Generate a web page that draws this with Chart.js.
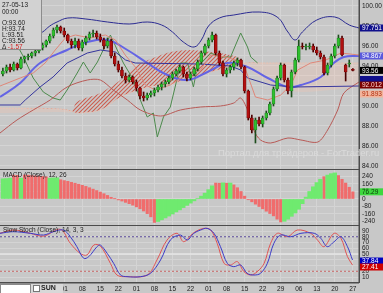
<!DOCTYPE html>
<html>
<head>
<meta charset="utf-8">
<script src="https://cdn.jsdelivr.net/npm/chart.js"></script>
<style>
  body { margin: 0; width: 383px; height: 293px; overflow: hidden; position: relative; background: #c8c8c8;
         font-family: "Liberation Sans", Arial, sans-serif; color: #222; }
  .pane { position: absolute; left: 0; width: 383px; }
  .txt { position: absolute; white-space: nowrap; font-size: 6.5px; }
  #info { position: absolute; left: 0; top: 0; width: 41px; height: 49px; background: #d2d2d2;
          border-right: 1px solid #8c8c8c; border-bottom: 1px solid #8c8c8c; }
  #info div { position: absolute; left: 2px; font-size: 6.5px; line-height: 7px; }
  #mark { position: absolute; left: 218px; top: 147px; font-size: 9.5px; color: #dadada; white-space: nowrap; }
</style>
</head>
<body>
<div class="pane" style="top:0;height:170px"><canvas id="mainChart"></canvas></div>
<div class="pane" style="top:170px;height:56px"><canvas id="macdChart"></canvas></div>
<div class="pane" style="top:226px;height:67px"><canvas id="stochChart"></canvas></div>

<div id="mark">Портал для трейдеров - ForTrader.ru</div>
<div id="info">
  <div style="top:1px">27-05-13</div>
  <div style="top:8px">00:00</div>
  <div style="top:19px">O:93.60</div>
  <div style="top:25px">H:93.74</div>
  <div style="top:31px">L:93.51</div>
  <div style="top:37px">C:93.56</div>
  <div style="top:43px">Δ <span style="color:#d02020">-1.57</span></div>
</div>
<div class="txt" style="left:3px;top:171px">MACD (Close), 12, 26</div>
<div class="txt" style="left:3px;top:226px">Slow Stoch (Close), 14, 3, 3</div>
<div style="position:absolute;left:0;top:284px;width:29px;height:8px;background:#fff;border:1px solid #8a8a8a"></div>
<div style="position:absolute;left:31px;top:284px;width:32px;height:9px;background:#d8d8d8"></div>
<div style="position:absolute;left:33px;top:285px;width:5px;height:5px;background:#fff;border:1px solid #777"></div>
<div class="txt" style="left:41px;top:284px;font-weight:bold;font-size:7px">SUN</div>

<script>
// ---- data ----
const dayIdx = [17, 22, 27, 32, 37, 42, 47, 52, 57, 62, 67, 72, 77, 82, 87, 92, 97];
const dayLabels = ['01', '08', '15', '22', '01', '08', '15', '22', '01', '08', '15', '22', '29', '06', '13', '20', '27'];
const priceTicks = [84, 85, 86, 87, 88, 89, 90, 91, 92, 93, 94, 95, 96, 97, 98, 99, 100];
const macdTicks = [-240, -160, -80, 0, 80, 160, 240];
const stochTicks = [10, 20, 30, 40, 50, 60, 70, 80, 90];

const opens = [93.2,93.5,93.9,93.6,94.2,93.8,94.7,94.9,95.0,95.3, 95.5,95.8,96.1,96.5,97.0,97.6,97.9,97.5,97.1,96.5,
  96.1,96.5,95.8,96.4,96.8,97.2,97.3,96.9,96.6,96.0, 96.5,95.0,94.2,93.6,93.0,92.6,92.9,92.4,91.8,91.0,
  90.8,91.1,91.3,91.6,91.9,92.2,92.4,92.8,93.2,93.5, 93.9,93.2,92.8,93.2,93.7,94.4,95.3,96.0,96.6,97.1,
  95.3,94.3,93.2,93.6,93.9,94.3,94.6,93.9,91.5,88.8, 87.6,88.6,88.2,88.8,89.3,90.2,91.7,92.8,94.1,92.6,
  91.5,93.4,94.6,96.0,95.9,95.9,96.0,95.6,95.3,94.9, 93.3,94.1,95.0,96.0,96.8,94.1,94.2,93.60];
const highs = [93.8,94.1,94.2,94.4,94.3,94.9,95.0,95.2,95.4,95.6, 96.0,96.3,96.6,97.2,97.8,98.1,98.0,97.8,97.2,96.7,
  96.8,96.7,96.6,97.0,97.4,97.6,97.5,97.2,96.8,96.8, 96.7,95.3,94.5,93.9,93.3,93.1,93.0,92.6,91.9,91.4,
  91.3,91.5,91.8,92.1,92.4,92.6,93.0,93.4,93.7,94.1, 94.0,93.4,93.4,93.9,94.6,95.5,96.2,96.8,97.4,97.2,
  95.5,94.5,93.8,94.1,94.5,94.8,94.7,94.0,91.6,89.1, 88.8,88.9,89.0,89.5,90.4,91.9,93.0,94.3,94.2,92.8,
  93.6,94.8,96.6,96.3,96.2,96.3,96.2,95.9,95.5,95.1, 94.3,95.2,96.2,97.1,97.0,94.2,94.6,93.74];
const lows = [93.0,93.3,93.4,93.5,93.6,93.7,94.3,94.6,94.8,95.0, 95.3,95.6,95.9,96.3,96.8,97.3,97.3,96.9,96.3,95.8,
  95.8,95.6,95.5,96.1,96.6,96.9,96.7,96.4,95.7,95.8, 94.8,94.0,93.4,92.8,92.3,92.4,92.2,91.5,90.7,90.5,
  90.6,90.9,91.0,91.4,91.6,91.9,92.2,92.6,93.0,93.3, 92.9,92.5,92.6,93.0,93.5,94.2,95.1,95.8,96.4,95.1,
  94.1,93.0,92.9,93.3,93.6,94.0,93.7,91.3,88.6,87.3, 86.3,88.0,87.9,88.6,89.1,90.0,91.5,92.6,92.4,91.2,
  90.9,93.2,94.4,95.7,95.6,95.7,95.4,95.1,94.7,93.1, 93.1,93.9,94.8,95.8,95.0,92.5,93.9,93.51];
const closes = [93.5,93.9,93.6,94.2,93.8,94.7,94.9,95.0,95.3,95.5, 95.8,96.1,96.5,97.0,97.6,97.9,97.5,97.1,96.5,96.1,
  96.5,95.8,96.4,96.8,97.2,97.3,96.9,96.6,96.0,96.5, 95.0,94.2,93.6,93.0,92.6,92.9,92.4,91.8,91.0,90.8,
  91.1,91.3,91.6,91.9,92.2,92.4,92.8,93.2,93.5,93.9, 93.2,92.8,93.2,93.7,94.4,95.3,96.0,96.6,97.1,95.3,
  94.3,93.2,93.6,93.9,94.3,94.6,93.9,91.5,88.8,87.6, 88.6,88.2,88.8,89.3,90.2,91.7,92.8,94.1,92.6,91.5,
  93.4,94.6,96.0,95.9,95.9,96.0,95.6,95.3,94.9,93.3, 94.1,95.0,96.0,96.8,95.1,93.4,94.2,93.56];

// overlay lines: [bar, price]
const upperBand = [[-0.8,96.6],[5,96.8],[9,97.1],[11,97.4],[13,98.0],[15,98.4],[18,98.8],[23,98.7],[29,98.4],[35,98.2],
  [40,98.4],[44,98.1],[47,97.4],[50,96.4],[53,95.9],[55,96.6],[57,98.0],[60,98.8],[64,99.1],[71,99.4],[76,98.9],
  [79,97.4],[81,96.6],[83,97.4],[87,98.6],[92,98.9],[96,98.1],[98.7,97.8]];
const midBand = [[-0.8,90.9],[4.8,92.3],[10.3,94.3],[17.8,95.6],[23.4,96.4],[29,96.6],[34.5,95.6],[40,94.3],[45.6,93.1],
  [51.2,92.6],[56.7,93.4],[62.3,94.3],[67.8,93.9],[73.4,92.8],[79,91.9],[82.6,92.1],[88.1,92.9],[91.7,94.3],[94.5,94.9],[98.7,95.0]];
const lowerBand = [[-0.8,87.3],[3.9,88.6],[8.4,89.6],[13.1,90.6],[17.8,91.9],[23.4,92.6],[27,92.6],[30.6,91.6],[34.5,90.6],
  [38.1,89.6],[43.7,89.0],[49.2,89.6],[54.8,89.9],[60.3,90.0],[64,90.3],[65.9,90.8],[67.8,89.6],[69.5,87.6],[71.4,86.6],
  [74.2,86.3],[79,86.8],[82.6,86.6],[87.3,86.4],[90,87.6],[92.8,89.6],[94.5,91.3],[98.7,92.4]];
const tenkan = [[-0.8,92.0],[4.8,92.8],[8.4,93.3],[11.7,94.3],[14.5,95.6],[17.3,96.8],[20.1,97.1],[24.2,96.8],[28.4,97.1],
  [31.2,96.6],[33.9,95.1],[36.7,93.9],[39.5,92.1],[42.3,91.6],[46.4,92.1],[50.6,93.1],[54.8,93.6],[57.6,95.1],[61.7,94.9],
  [64.5,94.6],[67.3,93.6],[70,90.9],[73.4,90.6],[77,91.1],[79.8,92.1],[81.7,93.6],[85.3,94.3],[89.5,94.6],[93.7,95.3],[98.7,95.1]];
const kijun = [[-0.8,90.1],[4.8,90.1],[6.2,90.6],[10.3,91.9],[13.9,92.9],[17.8,94.3],[23.4,95.3],[27,95.6],[31.2,95.4],
  [34,94.6],[36.7,94.3],[54.8,94.2],[63.1,94.0],[65.9,93.6],[67.8,92.8],[74.2,92.1],[80.6,91.9],[98.7,92.0]];
const chikou = [[3.9,96.1],[5.6,95.0],[8.4,92.8],[11.2,91.4],[13.9,90.8],[15.9,90.6],[17.8,91.6],[20.6,93.3],[22.3,94.4],
  [24.2,93.3],[26.2,94.4],[27.8,95.6],[29.8,97.1],[31.7,95.6],[33.4,94.3],[36.2,92.6],[38.1,90.6],[40,88.9],[41.7,89.3],
  [42.8,86.9],[44.5,88.9],[46.4,89.9],[48.4,92.9],[49.2,94.3],[51.2,94.3],[52.8,91.9],[53.9,93.9],[57.6,95.3],[60.3,94.9],
  [63.1,94.9],[65.9,97.3],[67.8,95.9],[68.7,94.9],[70.6,94.3]];
const cloudIdx = [-0.8, 16, 19, 20.5, 27, 32.6, 37.3, 41.7, 46.4, 52, 57.6, 65, 67.3, 71.4, 77, 82.6, 90.9, 98.7];
const spanA = [89.3, 89.4, 89.4, 90.4, 91.3, 92.6, 94.1, 94.8, 95.4, 95.6, 95.4, 94.9, 94.0, 92.8, 91.8, 91.4, 91.6, 91.9];
const spanB = [89.8, 89.7, 89.5, 89.3, 89.6, 90.9, 91.6, 92.0, 92.2, 92.8, 93.4, 94.1, 94.3, 94.3, 94.3, 94.3, 94.3, 94.3];

const macd = [215,218,222,255,252,222,256,254,250,246,244,240,236,222,224,226,
  205,196,188,178,168,158,146,134,120,105,90,74,56,38,18,2,
  -10,-22,-36,-50,-66,-84,-104,-128,-156,-190,-250,
  -240,-222,-202,-182,-160,-138,-116,-92,-68,-44,-20,4,30,62,100,140,
  170,168,172,168,170,150,120,80,
  30,-8,-30,-55,-80,-105,-130,-155,-180,-215,-245,
  -238,-215,-185,-150,-110,-50,20,80,130,175,210,
  238,255,270,278,250,210,170,125,76.29];
const macdDir = 'GGGRRGRRRRRRRGGG' + 'RRRRRRRRRRRRRRRRRRRRRRRRRRR' + 'GGGGGGGGGGGGGGGG' +
  'RRGRG' + 'RRRRRRRRRRRRRR' + 'GGGGGGGGGGG' + 'RGGG' + 'RRRRR';

const stochK = [[-0.8,86],[2.9,88.8],[7.6,86],[11.3,83],[14,88.8],[16.8,91.7],[18.7,80],[20.5,62.8],[22.4,42.5],[23.8,45.4],
  [26.1,62.8],[27,65.7],[28.9,51.2],[30.7,33.8],[32.6,13.5],[34.4,10.6],[38.1,10.6],[40.9,16.4],[43.7,39.6],[46.4,74.3],
  [49.2,83],[51.1,74.3],[52.9,86],[54.8,91.7],[56.6,94.6],[58.5,86],[60.3,62.8],[62.2,33.8],[64,28],[65.9,30.9],[67.7,16.4],
  [69.6,13.5],[71.4,16.4],[73.3,33.8],[75.1,68.6],[77,83],[79.8,80],[82.6,86],[86.3,86],[88.1,77.3],[89.9,62.8],[91.8,71.4],
  [93.7,80],[95.5,62.8],[96.9,39.6]];
const stochD = [[-0.8,86],[2.9,91.7],[7.6,86],[11.3,81],[15.9,93],[18.7,68.6],[21.4,51.2],[23.3,48.3],[25.2,65.7],[27,64],
  [29.8,33.8],[31.6,13.5],[34.4,10.6],[40,13.5],[42.7,39.6],[45.5,74.3],[48.3,86],[50.1,71.4],[52.9,87],[55.7,94.6],[57.6,91.7],
  [59.4,68.6],[61.3,33.8],[63.1,30.9],[65,36.7],[66.8,19.3],[68.7,13.5],[70.5,19.3],[72.4,33.8],[74.2,68.6],[76.1,86],
  [78.9,80],[81.6,91.7],[85.3,86],[87.2,74.3],[89,62.8],[91.8,86],[93.7,77.3],[95.5,45.4],[96.9,30.9]];
const stochLevels = [80, 50, 20];

// ---- helpers ----
Chart.defaults.font.family = '"Liberation Sans", Arial, sans-serif';
Chart.defaults.font.size = 6.5;
Chart.defaults.color = '#1a1a1a';
const X_MIN = -0.8, X_MAX = 98.7;
const gridColor = '#d4d4d4';
const pts = arr => arr.map(p => ({ x: p[0], y: p[1] }));

function hatch() {
  const c = document.createElement('canvas');
  c.width = 4; c.height = 4;
  const g = c.getContext('2d');
  g.strokeStyle = '#cc5e50';
  g.lineWidth = 1.1;
  g.beginPath();
  g.moveTo(0, 4); g.lineTo(4, 0);
  g.moveTo(-1, 1); g.lineTo(1, -1);
  g.moveTo(3, 5); g.lineTo(5, 3);
  g.stroke();
  return g.createPattern(c, 'repeat');
}

function xScale(showLabels) {
  return {
    type: 'linear', min: X_MIN, max: X_MAX, offset: false,
    grid: { color: gridColor, offset: false, drawTicks: false },
    border: { display: false },
    afterBuildTicks: s => { s.ticks = dayIdx.map(v => ({ value: v })); },
    ticks: {
      display: showLabels, padding: 2, maxRotation: 0, autoSkip: false,
      callback: (v, i) => dayLabels[i]
    },
    afterFit: s => { s.height = showLabels ? 10 : 0; s.paddingLeft = 0; s.paddingRight = 0; }
  };
}

function yScale(min, max, tickList, fmt) {
  return {
    position: 'right', min: min, max: max,
    grid: { color: gridColor, drawTicks: false },
    border: { display: false },
    afterBuildTicks: s => { s.ticks = tickList.map(v => ({ value: v })); },
    ticks: { autoSkip: false, padding: 3, callback: fmt },
    afterFit: s => { s.width = 24; s.paddingTop = 0; s.paddingBottom = 0; }
  };
}

function panelDeco(boxes) {
  return {
    id: 'panelDeco',
    afterDraw(chart) {
      const { ctx, chartArea: a } = chart;
      const y = chart.scales.y;
      ctx.save();
      ctx.strokeStyle = '#4c4c4c';
      ctx.lineWidth = 1.5;
      ctx.beginPath();
      ctx.moveTo(0, a.bottom - 0.25); ctx.lineTo(a.right, a.bottom - 0.25);
      ctx.moveTo(a.right + 0.25, 0); ctx.lineTo(a.right + 0.25, a.bottom);
      ctx.stroke();
      ctx.font = '6.5px "Liberation Sans", Arial, sans-serif';
      ctx.textBaseline = 'middle';
      boxes.forEach(b => {
        const py = y.getPixelForValue(b.value);
        ctx.fillStyle = b.bg;
        ctx.fillRect(a.right + 1, py - 3.5, chart.width - a.right - 1, 7);
        ctx.fillStyle = b.fg;
        ctx.fillText(b.text, a.right + 3, py + 0.5);
      });
      ctx.restore();
    }
  };
}

const lineDs = (data, color, width, order, tension) => ({
  type: 'line', data: pts(data), borderColor: color, borderWidth: width,
  pointRadius: 0, tension: tension, order: order, fill: false
});

// ---- main price panel ----
const up = closes.map((c, i) => c >= opens[i]);
new Chart(document.getElementById('mainChart'), {
  type: 'bar',
  data: {
    datasets: [
      {
        data: closes.map((c, i) => ({ x: i, y: [opens[i], c] })),
        backgroundColor: up.map(u => u ? '#2fc02f' : '#b01010'),
        borderColor: up.map(u => u ? '#1d6e1d' : '#6a0000'),
        borderWidth: 0.6, borderSkipped: false,
        barThickness: 3, minBarLength: 1, grouped: false, order: 0
      },
      {
        data: highs.map((h, i) => ({ x: i, y: [lows[i], h] })),
        backgroundColor: up.map(u => u ? '#1d4d1d' : '#4a0000'),
        barThickness: 1, grouped: false, order: 1
      },
      lineDs(tenkan, '#de8678', 1, 2, 0),
      lineDs(kijun, '#34349c', 1, 3, 0),
      lineDs(upperBand, '#2c2c92', 1, 4, 0.4),
      lineDs(midBand, '#6464e4', 2, 5, 0.4),
      lineDs(lowerBand, '#b85a56', 1, 6, 0.3),
      lineDs(chikou, '#4c8a4c', 1, 7, 0),
      {
        type: 'line', data: cloudIdx.map((x, i) => ({ x: x, y: spanA[i] })),
        borderWidth: 0, borderColor: 'rgba(0,0,0,0)', pointRadius: 0, tension: 0.3, order: 8,
        fill: { target: '+1', above: hatch(), below: 'rgba(244,196,176,0.3)' }
      },
      {
        type: 'line', data: cloudIdx.map((x, i) => ({ x: x, y: spanB[i] })),
        borderWidth: 1, borderColor: 'rgba(240,190,170,0.8)', borderDash: [2, 1],
        pointRadius: 0, tension: 0.3, order: 9, fill: false
      }
    ]
  },
  options: {
    animation: false, responsive: true, maintainAspectRatio: false,
    layout: { padding: 0 },
    plugins: { legend: { display: false }, tooltip: { enabled: false } },
    scales: {
      x: xScale(false),
      y: yScale(83.6, 100.6, priceTicks, v => (v % 2 === 0 ? v.toFixed(2) : ''))
    }
  },
  plugins: [panelDeco([
    { value: 97.8, text: '97.751', bg: '#10108c', fg: '#ffffff' },
    { value: 95.0, text: '94.867', bg: '#5a5adc', fg: '#ffffff' },
    { value: 93.56, text: '93.56', bg: '#000000', fg: '#ffffff' },
    { value: 92.65, text: '', bg: '#10108c', fg: '#ffffff' },
    { value: 92.1, text: '92.012', bg: '#7a0000', fg: '#ffd6d6' },
    { value: 91.2, text: '91.893', bg: '#f2b49c', fg: '#b03010' }
  ])]
});

// ---- MACD panel ----
new Chart(document.getElementById('macdChart'), {
  type: 'bar',
  data: {
    datasets: [
      {
        data: macd.map((v, i) => ({ x: i, y: macdDir[i] === 'G' ? v : null })),
        backgroundColor: '#6fea6f', barThickness: 3.7, grouped: false
      },
      {
        data: macd.map((v, i) => ({ x: i, y: macdDir[i] === 'R' ? v : null })),
        backgroundColor: '#f06c6c', barThickness: 2.5, grouped: false
      }
    ]
  },
  options: {
    animation: false, responsive: true, maintainAspectRatio: false,
    layout: { padding: 0 },
    plugins: { legend: { display: false }, tooltip: { enabled: false } },
    scales: {
      x: xScale(false),
      y: yScale(-288, 309, macdTicks, v => String(v))
    }
  },
  plugins: [panelDeco([{ value: 76.29, text: '76.29', bg: '#3ed83e', fg: '#0b3a0b' }])]
});

// ---- slow stochastic panel ----
new Chart(document.getElementById('stochChart'), {
  type: 'line',
  data: {
    datasets: [
      lineDs(stochK, '#3a3ac8', 1, 0, 0.35),
      lineDs(stochD, '#e05454', 1, 1, 0.35),
      { data: [{ x: X_MIN, y: stochLevels[0] }, { x: X_MAX, y: stochLevels[0] }], borderColor: '#5a4a9a',
        borderWidth: 1, borderDash: [2, 2], pointRadius: 0, order: 2 },
      { data: [{ x: X_MIN, y: stochLevels[1] }, { x: X_MAX, y: stochLevels[1] }], borderColor: '#e6e6e6',
        borderWidth: 1.5, pointRadius: 0, order: 3 },
      { data: [{ x: X_MIN, y: stochLevels[2] }, { x: X_MAX, y: stochLevels[2] }], borderColor: '#c86464',
        borderWidth: 1, borderDash: [2, 2], pointRadius: 0, order: 4 }
    ]
  },
  options: {
    animation: false, responsive: true, maintainAspectRatio: false,
    layout: { padding: 0 },
    plugins: { legend: { display: false }, tooltip: { enabled: false } },
    scales: {
      x: xScale(true),
      y: yScale(-0.4, 98.7, stochTicks, v => String(v))
    }
  },
  plugins: [panelDeco([
    { value: 37.8, text: '37.84', bg: '#0000c0', fg: '#ffffff' },
    { value: 27.4, text: '27.41', bg: '#d00000', fg: '#ffffff' }
  ])]
});
</script>
</body>
</html>
